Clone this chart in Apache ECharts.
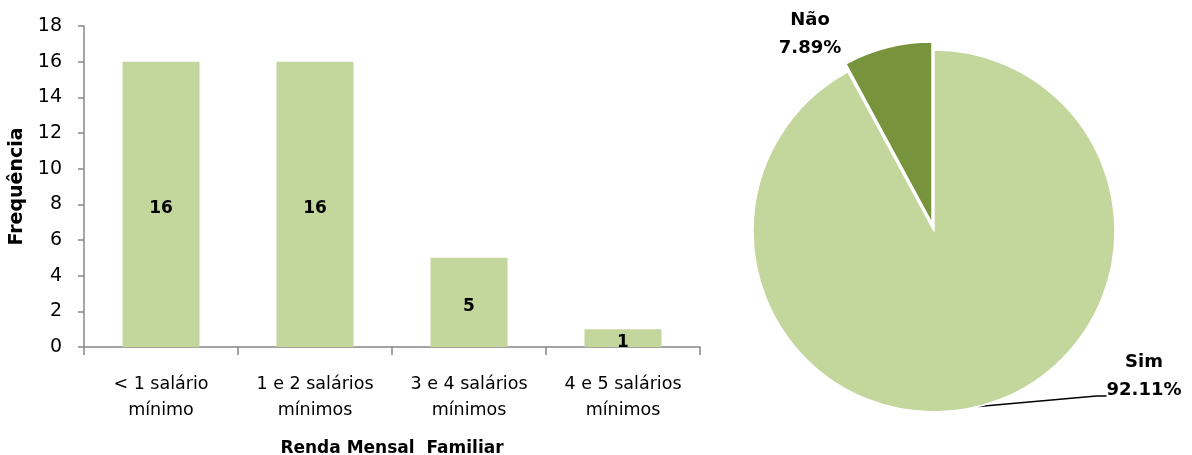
<!DOCTYPE html>
<html>
<head>
<meta charset="utf-8">
<script src="https://cdn.jsdelivr.net/npm/echarts@6/dist/echarts.min.js"></script>
<style>
  html, body { margin: 0; padding: 0; background: #fff; }
  #chart { width: 1192px; height: 455px; }
</style>
</head>
<body>
<div id="chart"></div>
<script>
const incomeCategories = ["< 1 salário\nmínimo", "1 e 2 salários\nmínimos", "3 e 4 salários\nmínimos", "4 e 5 salários\nmínimos"];
const incomeCounts = [16, 16, 5, 1];
const yTicks = { min: 0, max: 18, interval: 2 };

const pieNames = ["Sim", "Não"];
const pieValues = [92.11, 7.89];

const barColor = "#c3d69b";
const pieColors = ["#c3d69b", "#77933c"];
const axisColor = "#868686";
const textColor = "#000";
const fontFamily = "'DejaVu Sans', sans-serif";

const pieCenter = [934, 231];
const pieRadius = 181;
// "Não" is pulled out of the pie, drawn as a second pie with a shifted centre
const explodedCenter = [932, 223];

const chart = echarts.init(document.getElementById("chart"), null, { renderer: "canvas" });

function pieLabel(p) {
  const text = "{t|" + p.name + "}\n{t|" + p.value.toFixed(2) + "%}";
  return p.name === "Sim" ? text + "\n{gap| }" : text;
}

const pieLabelStyle = {
  show: true,
  position: "outside",
  formatter: pieLabel,
  align: "center",
  rich: {
    t: { color: textColor, fontWeight: "bold", fontSize: 18, lineHeight: 28, fontFamily: fontFamily, align: "center" },
    gap: { fontSize: 10, lineHeight: 60 },
  },
};

// shown = name of the slice this series draws; the other slice is a transparent placeholder
function pieData(shown) {
  return pieNames.map((name, i) => ({
    name: name,
    value: pieValues[i],
    itemStyle: name === shown
      ? { color: pieColors[i], borderColor: "#fff", borderWidth: 1.5 }
      : { color: "rgba(0,0,0,0)", borderWidth: 0 },
    label: { show: name === shown },
    labelLine: { show: name === shown && name === "Sim" },
  }));
}

chart.setOption({
  animation: false,
  textStyle: { fontFamily: fontFamily },
  grid: { left: 84, right: 492, top: 26, bottom: 108, outerBoundsMode: "none", containLabel: false },
  xAxis: {
    type: "category",
    data: incomeCategories,
    name: "Renda Mensal  Familiar",
    nameLocation: "middle",
    nameGap: 93,
    nameTextStyle: { color: textColor, fontWeight: "bold", fontSize: 17, fontFamily: fontFamily },
    axisLine: { lineStyle: { color: axisColor, width: 1.5 } },
    axisTick: { show: true, length: 8, alignWithLabel: false, lineStyle: { color: axisColor, width: 1.5 } },
    axisLabel: { color: textColor, fontSize: 17.5, lineHeight: 26, margin: 24, fontFamily: fontFamily },
  },
  yAxis: {
    type: "value",
    min: yTicks.min,
    max: yTicks.max,
    interval: yTicks.interval,
    name: "Frequência",
    nameLocation: "middle",
    nameGap: 50,
    nameRotate: 90,
    nameTextStyle: { color: textColor, fontWeight: "bold", fontSize: 19, fontFamily: fontFamily },
    axisLine: { show: true, lineStyle: { color: axisColor, width: 1.5 } },
    axisTick: { show: true, length: 6, lineStyle: { color: axisColor, width: 1.5 } },
    splitLine: { show: false },
    axisLabel: { color: textColor, fontSize: 19, margin: 22, fontFamily: fontFamily },
  },
  series: [
    {
      type: "bar",
      data: incomeCounts,
      barCategoryGap: "50%",
      itemStyle: { color: barColor },
      label: {
        show: true,
        position: "inside",
        offset: [0, 4],
        color: textColor,
        fontWeight: "bold",
        fontSize: 17,
        fontFamily: fontFamily,
      },
    },
    {
      type: "pie",
      center: pieCenter,
      radius: pieRadius,
      startAngle: 90,
      clockwise: true,
      avoidLabelOverlap: false,
      silent: true,
      data: pieData("Sim"),
      label: pieLabelStyle,
      labelLine: { show: true, length: 0, length2: 10, lineStyle: { color: "#000", width: 1.5 } },
      labelLayout: { x: 1144, y: 406, align: "center", verticalAlign: "middle" },
    },
    {
      type: "pie",
      center: explodedCenter,
      radius: pieRadius,
      startAngle: 90,
      clockwise: true,
      avoidLabelOverlap: false,
      silent: true,
      data: pieData("Não"),
      label: pieLabelStyle,
      labelLine: { show: false },
      labelLayout: { x: 810, y: 34, align: "center", verticalAlign: "middle" },
    },
  ],
});
</script>
</body>
</html>
